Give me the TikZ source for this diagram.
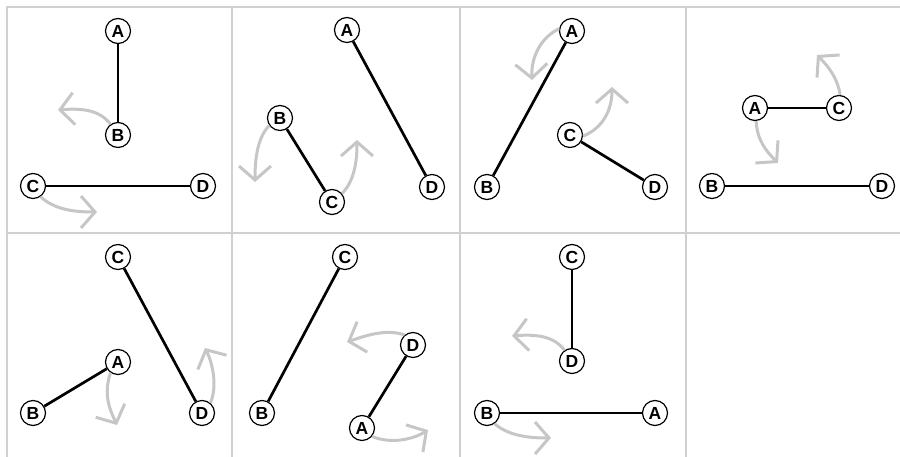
\documentclass[tikz,border=0pt]{standalone}
\usepackage{fontspec}
\setmainfont{Liberation Sans}
\usetikzlibrary{arrows.meta}
\definecolor{turngray}{RGB}{198,198,198}
\definecolor{linegray}{RGB}{208,208,208}
\begin{document}
\begin{tikzpicture}[x=1pt,y=-1pt,
  vtx/.style={circle,draw=black,line width=1.2pt,fill=white,minimum size=25pt,inner sep=0pt,font=\bfseries\fontsize{17.5}{17.5}\selectfont},
  edge/.style={line width=2.7pt,draw=black},
  turn/.style={line width=3pt,draw=turngray,-{Straight Barb[length=14pt,width=32pt]}},
  gridline/.style={line width=2pt,draw=linegray}]
\useasboundingbox (0,0) rectangle (900,457);
% grid
\draw[gridline] (7,457) -- (7,7) -- (900,7);
\draw[gridline] (7,233) -- (900,233);
\draw[gridline] (232,7) -- (232,457);
\draw[gridline] (460,7) -- (460,457);
\draw[gridline] (686,7) -- (686,457);
% cell 1
\node[vtx] (A1) at (118,31) {A};
\node[vtx] (B1) at (118,135) {B};
\node[vtx] (C1) at (33,186) {C};
\node[vtx] (D1) at (203,186) {D};
\draw[edge] (A1) -- (B1);
\draw[edge] (C1) -- (D1);
\coordinate (t1) at (58,110);
\coordinate (t2) at (97,212);
\draw[turn] (B1.125) .. controls (100,110) and (82,108) .. (t1);
\draw[turn] (C1.-55) .. controls (55,210) and (75,212) .. (t2);
% cell 2
\node[vtx] (A2) at (347,30) {A};
\node[vtx] (B2) at (280,118) {B};
\node[vtx] (C2) at (332,202) {C};
\node[vtx] (D2) at (432,187) {D};
\draw[edge] (A2) -- (D2);
\draw[edge] (B2) -- (C2);
\coordinate (t3) at (255,182);
\coordinate (t4) at (357,140);
\draw[turn] (B2.215) .. controls (257,138) and (255,160) .. (t3);
\draw[turn] (C2.40) .. controls (355,180) and (357,160) .. (t4);
% cell 3
\node[vtx] (A3) at (572,31) {A};
\node[vtx] (B3) at (487,187) {B};
\node[vtx] (C3) at (570,135) {C};
\node[vtx] (D3) at (655,187) {D};
\draw[edge] (A3) -- (B3);
\draw[edge] (C3) -- (D3);
\coordinate (t5) at (532,80);
\coordinate (t6) at (612,87);
\draw[turn] (A3.170) .. controls (540,38) and (531,58) .. (t5);
\draw[turn] (C3.-5) .. controls (603,128) and (612,110) .. (t6);
% cell 4
\node[vtx] (A4) at (755,108) {A};
\node[vtx] (C4) at (839,108) {C};
\node[vtx] (B4) at (712,186) {B};
\node[vtx] (D4) at (882,186) {D};
\draw[edge] (A4) -- (C4);
\draw[edge] (B4) -- (D4);
\coordinate (t7) at (817,55);
\coordinate (t8) at (778,163);
\draw[turn] (C4.85) .. controls (838,80) and (830,68) .. (t7);
\draw[turn] (A4.-85) .. controls (757,140) and (766,151) .. (t8);
% cell 5
\node[vtx] (C5) at (118,257) {C};
\node[vtx] (A5) at (118,362) {A};
\node[vtx] (B5) at (33,413) {B};
\node[vtx] (D5) at (202,413) {D};
\draw[edge] (C5) -- (D5);
\draw[edge] (A5) -- (B5);
\coordinate (t9) at (117,425);
\coordinate (t10) at (205,348);
\draw[turn] (A5.235) .. controls (103,395) and (110,410) .. (t9);
\draw[turn] (D5.50) .. controls (218,385) and (212,362) .. (t10);
% cell 6
\node[vtx] (C6) at (345,257) {C};
\node[vtx] (B6) at (262,413) {B};
\node[vtx] (D6) at (413,345) {D};
\node[vtx] (A6) at (362,428) {A};
\draw[edge] (C6) -- (B6);
\draw[edge] (D6) -- (A6);
\coordinate (t11) at (347,342);
\coordinate (t12) at (428,430);
\draw[turn] (D6.130) .. controls (385,328) and (362,337) .. (t11);
\draw[turn] (A6.-40) .. controls (390,444) and (412,440) .. (t12);
% cell 7
\node[vtx] (C7) at (572,257) {C};
\node[vtx] (D7) at (572,361) {D};
\node[vtx] (B7) at (487,413) {B};
\node[vtx] (A7) at (655,413) {A};
\draw[edge] (C7) -- (D7);
\draw[edge] (B7) -- (A7);
\coordinate (t13) at (512,336);
\coordinate (t14) at (551,438);
\draw[turn] (D7.125) .. controls (554,336) and (536,334) .. (t13);
\draw[turn] (B7.-55) .. controls (509,436) and (529,438) .. (t14);
\end{tikzpicture}
\end{document}
